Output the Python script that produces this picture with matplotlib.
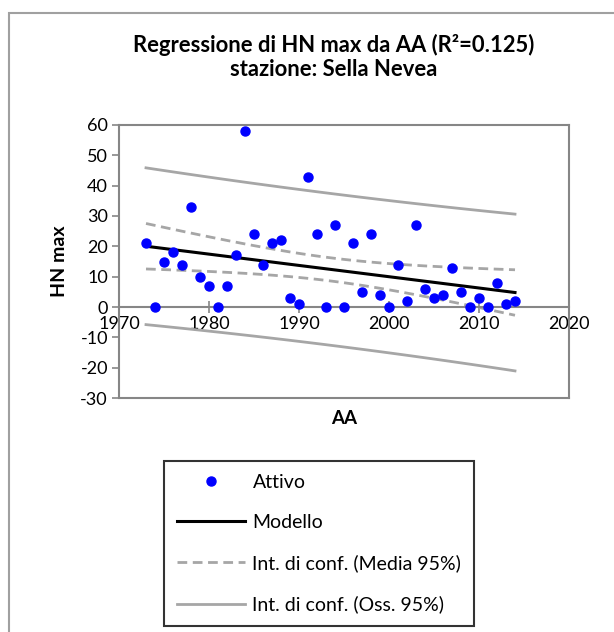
import numpy as np
import matplotlib.pyplot as plt
from matplotlib.patches import Rectangle
from matplotlib.lines import Line2D

# data
years = list(range(1973, 2015))
hn_max = [21, 0, 15, 18, 14, 33, 10, 7, 0, 7,
          17, 58, 24, 14, 21, 22, 3, 1, 43, 24,
          0, 27, 0, 21, 5, 24, 4, 0, 14, 2,
          27, 6, 3, 4, 13, 5, 0, 3, 0, 8,
          1, 2]
t_crit = 2.021  # t(0.975, n-2) for 40 df

x = np.array(years, dtype=float)
y = np.array(hn_max, dtype=float)
n = len(x)

# linear model and 95% intervals
b, a = np.polyfit(x, y, 1)
yhat = a + b * x
s = np.sqrt(np.sum((y - yhat) ** 2) / (n - 2))
sxx = np.sum((x - x.mean()) ** 2)
se_mean = s * np.sqrt(1 / n + (x - x.mean()) ** 2 / sxx)
se_obs = s * np.sqrt(1 + 1 / n + (x - x.mean()) ** 2 / sxx)

plt.rcParams['font.family'] = ['Lato', 'DejaVu Sans']
plt.rcParams['axes.unicode_minus'] = False
W, H = 614, 632
fig = plt.figure(figsize=(W / 100, H / 100), dpi=100)

gray = '#868686'
band = '#A6A6A6'

ax = fig.add_axes([119 / W, 1 - 398 / H, (569 - 119) / W, (398 - 125) / H])
ax.set_xlim(1970, 2020)
ax.set_ylim(-30, 60)
ax.set_xticks([1970, 1980, 1990, 2000, 2010, 2020])
ax.set_yticks(range(-30, 61, 10))

ax.plot(x, yhat + se_obs * t_crit, color=band, lw=2)
ax.plot(x, yhat - se_obs * t_crit, color=band, lw=2)
ax.plot(x, yhat + se_mean * t_crit, color=band, lw=2, ls=(0, (3.5, 2)))
ax.plot(x, yhat - se_mean * t_crit, color=band, lw=2, ls=(0, (3.5, 2)))
ax.plot(x, yhat, color='black', lw=2.2)
ax.plot(x, y, 'o', color='#0000FF', ms=6.5, mec='#0000FF', zorder=5)

for side in ['top', 'right', 'left']:
    ax.spines[side].set_color(gray)
    ax.spines[side].set_linewidth(1.5)
ax.spines['bottom'].set_position(('data', 0))
ax.spines['bottom'].set_color(gray)
ax.spines['bottom'].set_linewidth(1.5)
ax.add_line(Line2D([0, 1], [0, 0], transform=ax.transAxes, color=gray, lw=1.5, clip_on=False))

ax.tick_params(axis='x', direction='inout', length=9, width=1.2, color=gray, labelsize=13, pad=2)
ax.tick_params(axis='y', direction='out', length=5, width=1.2, color=gray, labelsize=13, pad=3)

ax.set_ylabel('HN max', fontsize=14, fontweight='bold', labelpad=9)
ax.text(0.5, -0.045, 'AA', transform=ax.transAxes, ha='center', va='top', fontsize=13.5, fontweight='bold')

fig.text(334 / W, 1 - 45 / H, 'Regressione di HN max da AA (R²=0.125)', ha='center', va='center',
         fontsize=15.8, fontweight='bold')
fig.text(334 / W, 1 - 70 / H, 'stazione: Sella Nevea', ha='center', va='center',
         fontsize=15.8, fontweight='bold')

# legend
handles = [
    Line2D([], [], ls='none', marker='o', color='#0000FF', ms=6.5),
    Line2D([], [], color='black', lw=2.2),
    Line2D([], [], color=band, lw=2, ls=(0, (3.5, 2))),
    Line2D([], [], color=band, lw=2),
]
labels = ['Attivo', 'Modello', 'Int. di conf. (Media 95%)', 'Int. di conf. (Oss. 95%)']
leg = fig.legend(handles, labels, loc='upper left', bbox_to_anchor=(164 / W, 1 - 461 / H),
                 fontsize=14, frameon=True, fancybox=False, edgecolor='black',
                 handlelength=3.5, handletextpad=0.4, labelspacing=1.2, borderpad=0.65,
                 borderaxespad=0)
leg.get_frame().set_linewidth(1.5)

# outer chart border
fig.patches.append(Rectangle((9 / W, -0.1), 1.2, 1 - 12.5 / H + 0.1, transform=fig.transFigure,
                             fill=False, edgecolor='#A0A0A0', lw=1.5))

fig.savefig('out.png', dpi=100)
